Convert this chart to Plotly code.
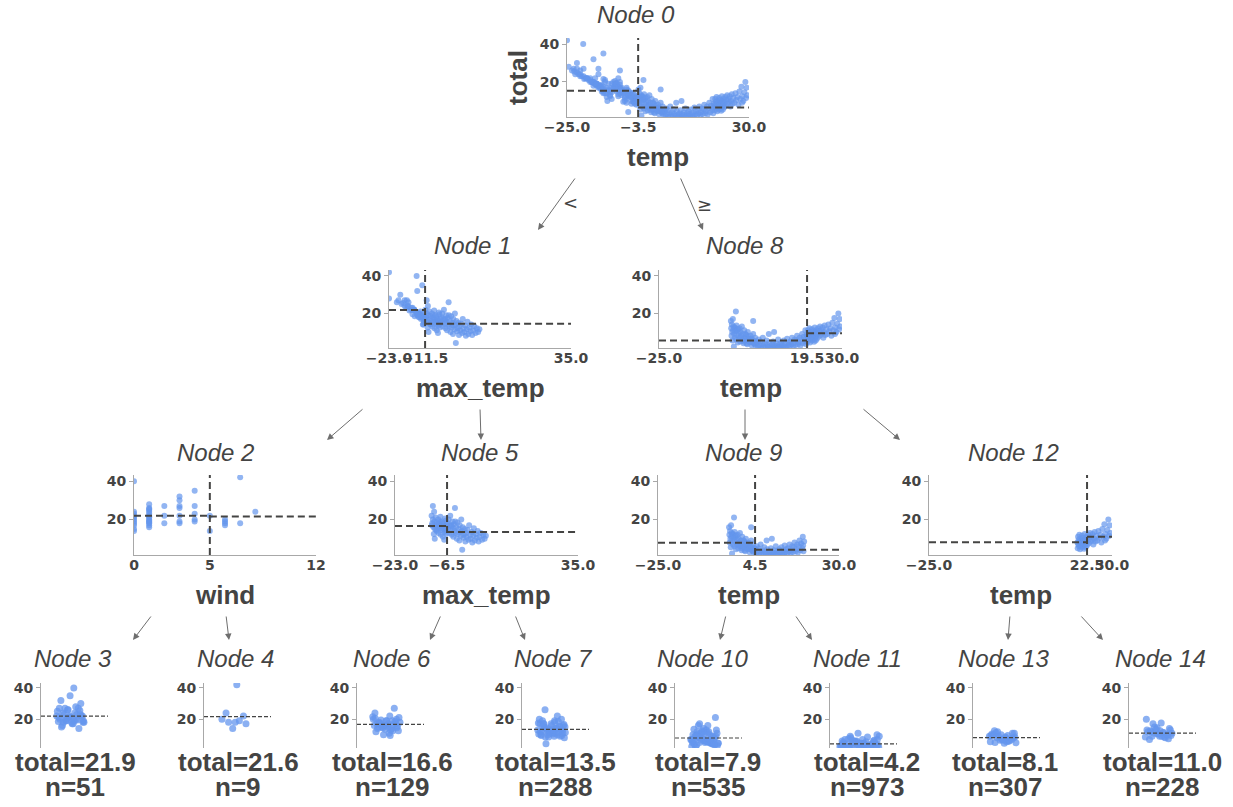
import plotly.graph_objects as go

W, H = 1233, 807
INK = "#444443"
DOT = "#6495ED"
SPINE = "#a8a8a8"

# ---------------- observations, grouped by the leaf they end up in ----------------
# Node 3: temp < -3.5, max_temp < -11.5, wind < 5
node3_wind = [0, 0, 0, 0, 0, 0, 0, 0, 0, 0, 0,
              1, 1, 1, 1, 1, 1, 1, 1, 1, 1, 1, 1, 1, 1, 1, 1,
              2, 2, 2,
              3, 3, 3, 3, 3, 3, 3,
              4, 4, 4, 4, 4]
node3_temp = [-20.1, -22.5, -21.0, -19.5, -18.0, -17.0, -16.5, -15.5, -15.0, -14.5, -13.5,
              -23.5, -22.0, -21.5, -20.5, -19.0, -18.5, -17.5, -17.0, -16.0, -15.0, -14.5, -14.0, -22.8, -19.8, -16.2, -24.5,
              -22.0, -18.0, -15.0,
              -17.0, -20.0, -21.0, -19.0, -16.5, -15.5, -22.0,
              -14.0, -23.0, -20.0, -17.5, -16.0]
node3_max_temp = [-14.2, -18.0, -17.5, -15.5, -13.0, -12.5, -14.0, -12.0, -12.8, -11.8, -12.2,
                  -20.5, -19.0, -17.0, -16.0, -15.0, -14.5, -13.5, -15.5, -13.0, -12.5, -12.0, -11.9, -18.5, -16.5, -14.8, -23.0,
                  -18.0, -16.0, -13.2,
                  -14.0, -17.3, -16.8, -15.0, -13.8, -12.0, -19.4,
                  -12.4, -20.0, -15.5, -13.5, -12.6]
node3_total = [40, 24, 23, 22, 21, 20, 19, 18, 17, 15, 14,
               26, 25, 24, 23, 22, 21, 20, 19.5, 19, 18, 17, 16, 25.5, 21.5, 18.5, 28,
               27, 22, 18,
               32, 27, 26, 22, 19, 18, 30,
               35, 27, 23, 20, 19]

# Node 4: temp < -3.5, max_temp < -11.5, wind >= 5
node4_wind = [7, 8, 5, 5, 6, 6, 6, 6, 7]
node4_temp = [-25.0, -21.0, -19.0, -14.0, -18.0, -16.5, -17.0, -15.5, -16.0]
node4_max_temp = [-23.0, -17.0, -15.0, -12.0, -14.0, -13.0, -12.5, -12.0, -13.5]
node4_total = [42, 24, 22, 14, 20, 19, 18, 17, 18]

# Node 6: temp < -3.5, -11.5 <= max_temp < -6.5
node6_max_temp = [-11.4, -11.2, -11.0, -10.8, -10.6, -10.5, -10.3, -10.1, -10.0, -9.8,
                  -9.7, -9.5, -9.3, -9.2, -9.0, -8.8, -8.7, -8.5, -8.3, -8.2,
                  -8.0, -7.8, -7.7, -7.5, -7.3, -7.2, -7.0, -6.9, -6.8, -6.7,
                  -6.6, -11.0, -10.4, -8.6, -7.4, -11.3, -9.9, -8.1, -7.1, -10.7]
node6_temp = [-16.5, -15.0, -17.0, -14.5, -15.5, -16.0, -14.0, -13.5, -15.0, -13.0,
              -14.5, -12.5, -13.5, -12.0, -14.0, -12.5, -11.5, -13.0, -11.0, -12.0,
              -10.5, -11.5, -10.0, -11.0, -9.5, -10.5, -9.0, -10.0, -9.5, -8.5,
              -9.0, -15.5, -12.8, -14.0, -8.0, -13.0, -11.5, -12.5, -10.5, -12.0]
node6_total = [22, 18, 20, 16, 24, 19, 15, 21, 17, 14,
               18.5, 16, 20, 13, 17.5, 15.5, 19, 12, 16.5, 14.5,
               18, 11, 15, 17, 13.5, 16, 14, 19.5, 12.5, 15,
               17, 27, 10, 21.5, 9.5, 17, 14.5, 19, 20.5, 12.5]

# Node 7: temp < -3.5, max_temp >= -6.5
node7_max_temp = [-6.4, -6.2, -6.0, -5.8, -5.6, -5.5, -5.3, -5.1, -5.0, -4.8,
                  -4.6, -4.5, -4.3, -4.1, -4.0, -3.8, -3.6, -3.4, -3.2, -3.0,
                  -2.8, -2.6, -2.5, -2.3, -2.1, -2.0, -1.8, -1.7, -1.5, -1.3,
                  -1.1, -0.9, -0.7, -0.5, -0.3, 0.0, 0.3, 0.5, 0.8, 1.0,
                  1.3, 1.5, 1.8, 2.0, 2.3, 2.6, 2.9, 3.2, 3.5, 3.8,
                  4.2, 4.6, 5.0, 5.4, 5.8, -3.9, -5.2]
node7_temp = [-10.5, -9.0, -11.0, -8.5, -10.0, -9.5, -8.0, -9.0, -7.5, -10.5,
              -8.5, -7.0, -9.5, -8.0, -9.0, -6.5, -8.5, -7.5, -9.0, -6.0,
              -8.0, -7.0, -8.5, -6.5, -7.5, -9.0, -5.5, -6.5, -7.0, -5.0,
              -6.0, -7.5, -5.5, -6.5, -4.5, -6.0, -5.0, -7.0, -4.5, -5.5,
              -6.0, -4.0, -5.0, -6.5, -4.5, -5.5, -4.0, -5.0, -4.5, -3.8,
              -4.5, -4.0, -3.8, -4.2, -3.9, -10.0, -11.5]
node7_total = [18, 15, 20, 13, 17, 22, 14.5, 16.5, 12, 19,
               15.5, 11, 17.5, 14, 26, 13, 16, 10, 18.5, 12.5,
               15, 9, 17, 13.5, 11.5, 20, 14, 4.2, 16, 10.5,
               12, 15, 8.5, 13, 11, 14.5, 9.5, 17, 12, 10,
               13.5, 8, 11.5, 15.5, 9, 12.5, 10.5, 14, 8.5, 11,
               13, 9.5, 12, 10, 11.5, 19, 17]

# Node 10: -3.5 <= temp < 4.5
node10_temp = [-3.4, -3.3, -3.2, -3.1, -3.0, -2.9, -2.8, -2.7, -2.6, -2.5,
               -2.4, -2.3, -2.2, -2.1, -2.0, -1.9, -1.8, -1.7, -1.6, -1.5,
               -1.3, -1.2, -1.0, -0.9, -0.8, -0.6, -0.5, -0.3, -0.1, 0.0,
               0.2, 0.4, 0.6, 0.8, 1.0, 1.2, 1.5, 1.7, 2.0, 2.3,
               2.5, 2.8, 3.0, 3.3, 3.6, 3.9, 4.1, 4.3, 3.3, 1.0,
               0.5, 1.3, 2.1, 2.6, 3.1, 3.5, 3.8, 4.2, 1.8, 0.9, -0.4, 2.9]
node10_total = [16, 12, 8, 14, 10, 5.5, 17, 11, 13, 2.3,
                9, 12.5, 7, 12, 10.5, 21, 6, 13.5, 8.5, 11,
                4.5, 11.5, 9.5, 7, 12, 5, 10, 8, 13, 6,
                9, 4, 11, 7, 5.5, 8.5, 3.5, 10, 6.5, 4.5,
                8, 3, 6, 9, 4, 7, 2.5, 5, 16, 9,
                5, 4, 5, 6.5, 4.5, 5.5, 3.5, 4, 7.5, 6, 7, 5]

# Node 11: 4.5 <= temp < 19.5
node11_temp = [4.6, 4.8, 5.0, 5.2, 5.5, 5.7, 6.0, 6.2, 6.5, 6.8,
               7.0, 7.3, 7.5, 7.8, 8.0, 8.2, 8.5, 8.8, 9.0, 9.3,
               9.5, 9.8, 10.0, 10.3, 10.5, 10.8, 11.0, 11.3, 11.5, 11.8,
               12.0, 12.3, 12.5, 12.8, 13.0, 13.3, 13.5, 13.8, 14.0, 14.3,
               14.5, 14.8, 15.0, 15.3, 15.5, 15.8, 16.0, 16.3, 16.5, 16.8,
               17.0, 17.3, 17.5, 17.8, 18.0, 18.3, 18.5, 18.8, 19.0, 19.2,
               19.4, 19.1, 9.6]
node11_total = [4.5, 2, 6, 3, 5, 1.8, 3.5, 7, 2.5, 4,
                1.6, 5.5, 3, 2, 9, 4.5, 2.5, 1.7, 3.5, 5,
                2, 3, 1.6, 4, 2.5, 6, 1.8, 3.5, 2.2, 4.5,
                3, 1.7, 5.5, 2.5, 3.8, 2, 6.5, 3, 4.5, 2.2,
                5, 3.5, 7, 2.5, 4, 6, 3, 5.5, 8, 3.5,
                4.5, 7, 2.8, 6, 9, 4, 7.5, 5, 11, 3.5,
                8.5, 6.5, 10]

# Node 13: 19.5 <= temp < 22.5
node13_temp = [19.6, 19.7, 19.8, 19.9, 20.0, 20.1, 20.2, 20.3, 20.4, 20.5,
               20.6, 20.7, 20.8, 20.9, 21.0, 21.1, 21.2, 21.3, 21.4, 21.5,
               21.6, 21.7, 21.8, 21.9, 22.0, 22.1, 22.2, 22.3, 22.4, 22.45]
node13_total = [8, 5, 11, 7, 9.5, 6, 12, 8.5, 4.5, 10,
                7.5, 6.5, 9, 5.5, 11.5, 8, 7, 10.5, 6, 9,
                4.8, 8.5, 12.5, 7, 10, 5.5, 9.5, 8, 11, 6.5]

# Node 14: temp >= 22.5
node14_temp = [22.6, 22.8, 23.0, 23.2, 23.4, 23.6, 23.8, 24.0, 24.2, 24.4,
               24.6, 24.8, 25.0, 25.3, 25.6, 25.9, 26.2, 26.5, 26.8, 27.1,
               27.4, 27.7, 28.0, 28.3, 28.6, 28.9, 29.1, 29.3, 29.5, 27.9]
node14_total = [9, 12, 7.5, 10.5, 13, 8.5, 11, 9.5, 12.5, 7,
                10, 13.5, 8.5, 11.5, 9, 14, 10.5, 12, 8, 15,
                11, 17.5, 12.5, 10, 14.5, 20, 11.5, 17, 13, 9]

# leaf predictions and sample counts
leaf_mean = {3: 21.9, 4: 21.6, 6: 16.6, 7: 13.5, 10: 7.9, 11: 4.2, 13: 8.1, 14: 11.0}
leaf_n = {3: 51, 4: 9, 6: 129, 7: 288, 10: 535, 11: 973, 13: 307, 14: 228}

# tree structure
children = {0: (1, 8), 1: (2, 5), 2: (3, 4), 5: (6, 7), 8: (9, 12), 9: (10, 11), 12: (13, 14)}
split_feature = {0: "temp", 1: "max_temp", 2: "wind", 5: "max_temp", 8: "temp", 9: "temp", 12: "temp"}
split_value = {0: -3.5, 1: -11.5, 2: 5, 5: -6.5, 8: 19.5, 9: 4.5, 12: 22.5}
feature_limits = {"temp": (-25.0, 30.0), "max_temp": (-23.0, 35.0), "wind": (0, 12)}
y_limits = (1.5, 43.2)
y_ticks = [20, 40]

leaf_records = {
    3: {"temp": node3_temp, "max_temp": node3_max_temp, "wind": node3_wind, "total": node3_total},
    4: {"temp": node4_temp, "max_temp": node4_max_temp, "wind": node4_wind, "total": node4_total},
    6: {"temp": node6_temp, "max_temp": node6_max_temp, "total": node6_total},
    7: {"temp": node7_temp, "max_temp": node7_max_temp, "total": node7_total},
    10: {"temp": node10_temp, "total": node10_total},
    11: {"temp": node11_temp, "total": node11_total},
    13: {"temp": node13_temp, "total": node13_total},
    14: {"temp": node14_temp, "total": node14_total},
}


def leaves_under(node):
    if node not in children:
        return [node]
    a, b = children[node]
    return leaves_under(a) + leaves_under(b)


def subtree_mean(node):
    ls = leaves_under(node)
    return sum(leaf_mean[k] * leaf_n[k] for k in ls) / sum(leaf_n[k] for k in ls)


def column(node, name):
    out = []
    for k in leaves_under(node):
        out += list(leaf_records[k][name])
    return out


def fmt(v, feature):
    s = f"{v:g}" if feature == "wind" else f"{v:.1f}"
    return s.replace("-", "\u2212")


# ---------------- page geometry (pixels) ----------------
panel_box = {  # left, top, width, height
    0: (567, 38, 182, 79),
    1: (389, 270, 182, 78),
    8: (659, 270, 183, 78),
    2: (134, 475, 182, 80),
    5: (395, 475, 183, 80),
    9: (658, 475, 181, 80),
    12: (929, 475, 183, 80),
}
leaf_left = {3: 41, 4: 204, 6: 357, 7: 522, 10: 675, 11: 830, 13: 973, 14: 1129}
LEAF_TOP, LEAF_W, LEAF_H = 683, 67, 65
leaf_strip = {11: 0.6}  # width of the horizontal strip, as a share of the leaf panel

title_pos = {0: (636, 14), 1: (472, 245), 8: (745, 245), 2: (215, 452), 5: (480, 452),
             9: (743, 452), 12: (1013, 452), 3: (73, 658), 4: (235, 658), 6: (392, 658),
             7: (553, 658), 10: (702, 658), 11: (857, 658), 13: (1003, 658), 14: (1160, 658)}
leaf_text_x = {3: 75, 4: 238, 6: 392, 7: 555, 10: 708, 11: 867, 13: 1005, 14: 1162}

edges = [  # tail (x, y) -> head (x, y)
    ((576, 177), (538, 230)), ((680, 177), (703, 230)),
    ((364, 408), (327, 440)), ((480, 408), (481, 440)),
    ((745, 408), (745, 440)), ((862, 408), (900, 440)),
    ((152, 615), (133, 640)), ((226, 615), (229, 640)),
    ((441, 615), (430, 640)), ((515, 615), (525, 640)),
    ((726, 615), (720, 640)), ((795, 615), (812, 640)),
    ((1010, 615), (1008, 640)), ((1080, 615), (1103, 640)),
]

TICK_FONT = dict(family="DejaVu Sans", size=14, color=INK, weight="bold")
LABEL_FONT = dict(family="Liberation Sans, Arial", size=26, color=INK, weight="bold")
TITLE_FONT = dict(family="Liberation Sans, Arial", size=24, color=INK, style="italic")

fig = go.Figure()
layout = {}
annotations = []
axis_id = [0]


def new_axes(box, xrange, xticks, feature):
    axis_id[0] += 1
    k = axis_id[0]
    sfx = "" if k == 1 else str(k)
    left, top, w, h = box
    layout[f"xaxis{sfx}"] = dict(
        domain=[left / W, (left + w) / W], range=list(xrange), anchor=f"y{sfx}",
        showgrid=False, zeroline=False, fixedrange=True, automargin=False,
        showline=xticks is not None, linecolor=SPINE, linewidth=1,
        ticks="", tickangle=0, ticklabelstandoff=-3,
        tickvals=xticks if xticks else [],
        ticktext=[fmt(v, feature) for v in xticks] if xticks else [],
        showticklabels=xticks is not None, tickfont=TICK_FONT,
    )
    layout[f"yaxis{sfx}"] = dict(
        domain=[1 - (top + h) / H, 1 - top / H], range=list(y_limits), anchor=f"x{sfx}",
        showgrid=False, zeroline=False, fixedrange=True, automargin=False,
        showline=True, linecolor=SPINE, linewidth=1,
        ticks="outside", ticklen=4, tickcolor=SPINE, tickwidth=1,
        tickvals=y_ticks, ticktext=[str(t) for t in y_ticks], tickfont=TICK_FONT,
    )
    return f"x{sfx}", f"y{sfx}"


def add_text(x, y, text, font, **kw):
    annotations.append(dict(x=x / W, y=1 - y / H, xref="paper", yref="paper", text=text,
                            showarrow=False, font=font, xanchor="center", yanchor="middle", **kw))


# ---------------- split nodes ----------------
for node, box in panel_box.items():
    feat = split_feature[node]
    lo, hi = feature_limits[feat]
    s = split_value[node]
    xa, ya = new_axes(box, (lo, hi), [lo, s, hi], feat)
    fig.add_trace(go.Scatter(x=column(node, feat), y=column(node, "total"), mode="markers",
                             marker=dict(size=6, color=DOT, opacity=0.7, line=dict(width=0)),
                             xaxis=xa, yaxis=ya, hoverinfo="skip", showlegend=False))
    left_child, right_child = children[node]
    dash = dict(color=INK, width=2, dash="7px,4px")
    fig.add_trace(go.Scatter(x=[lo, s], y=[subtree_mean(left_child)] * 2, mode="lines", line=dash,
                             xaxis=xa, yaxis=ya, hoverinfo="skip", showlegend=False))
    fig.add_trace(go.Scatter(x=[s, hi], y=[subtree_mean(right_child)] * 2, mode="lines", line=dash,
                             xaxis=xa, yaxis=ya, hoverinfo="skip", showlegend=False))
    fig.add_trace(go.Scatter(x=[s, s], y=list(y_limits), mode="lines", line=dash,
                             xaxis=xa, yaxis=ya, hoverinfo="skip", showlegend=False))
    px_per_unit = box[3] / (y_limits[1] - y_limits[0])
    fig.add_trace(go.Scatter(x=[s], y=[y_limits[0] - 2.5 / px_per_unit], mode="markers",
                             marker=dict(symbol="triangle-up", size=8, color=INK),
                             cliponaxis=False, xaxis=xa, yaxis=ya, hoverinfo="skip", showlegend=False))
    tx, ty = title_pos[node]
    add_text(tx, ty, f"Node {node}", TITLE_FONT)
    add_text(box[0] + box[2] / 2, box[1] + box[3] + 40, feat, LABEL_FONT)

add_text(518, 78, "total", LABEL_FONT, textangle=-90)

# ---------------- leaves ----------------
GOLDEN = 0.6180339887
for node, left in leaf_left.items():
    xa, ya = new_axes((left, LEAF_TOP, LEAF_W, LEAF_H), (0, 1), None, None)
    totals = leaf_records[node]["total"]
    width = leaf_strip.get(node, 0.42)
    # strip plot: spread the observations across a band using a golden-ratio sequence
    xs = [0.44 + width * (((i + 1) * GOLDEN) % 1.0 - 0.5) for i in range(len(totals))]
    fig.add_trace(go.Scatter(x=xs, y=totals, mode="markers",
                             marker=dict(size=7, color=DOT, opacity=0.75, line=dict(width=0)),
                             xaxis=xa, yaxis=ya, hoverinfo="skip", showlegend=False))
    fig.add_trace(go.Scatter(x=[0, 1], y=[leaf_mean[node]] * 2, mode="lines",
                             line=dict(color=INK, width=1.2, dash="4px,2px"),
                             xaxis=xa, yaxis=ya, hoverinfo="skip", showlegend=False))
    tx, ty = title_pos[node]
    add_text(tx, ty, f"Node {node}", TITLE_FONT)
    add_text(leaf_text_x[node], 762, f"total={leaf_mean[node]:.1f}", LABEL_FONT)
    add_text(leaf_text_x[node], 787, f"n={leaf_n[node]}", LABEL_FONT)

# ---------------- edges ----------------
for (x0, y0), (x1, y1) in edges:
    annotations.append(dict(x=x1 / W, y=1 - y1 / H, xref="paper", yref="paper",
                            ax=x0 - x1, ay=y0 - y1, axref="pixel", ayref="pixel",
                            text="", showarrow=True, arrowhead=2, arrowsize=1.3,
                            arrowwidth=1, arrowcolor="#6e6e6e", standoff=0))
add_text(570, 202, "<", dict(family="DejaVu Sans", size=18, color=INK))
add_text(704, 205, "\u2265", dict(family="DejaVu Sans", size=18, color=INK))

fig.update_layout(width=W, height=H, margin=dict(l=0, r=0, t=0, b=0, pad=0, autoexpand=False),
                  paper_bgcolor="white", plot_bgcolor="white",
                  annotations=annotations, **layout)
fig.write_html("out.html")
